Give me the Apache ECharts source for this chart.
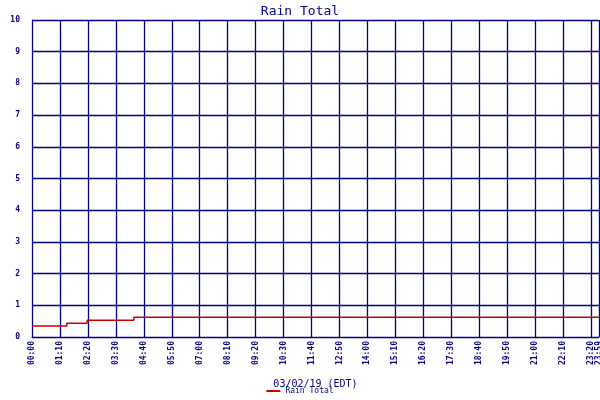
<!DOCTYPE html><html><head><meta charset="utf-8">
<script src="https://cdn.jsdelivr.net/npm/echarts@6/dist/echarts.min.js"></script>
<style>body{margin:0;background:#fff}#c{width:600px;height:400px}</style></head><body><div id="c"></div>
<script>
// times in minutes after midnight, values in inches
const stepTimes = [0, 87, 138, 255, 1420];
const stepValues = [0.35, 0.43, 0.53, 0.62, 0.62];
const yTicks = [0,1,2,3,4,5,6,7,8,9,10];
const seriesName = 'Rain Total';
const navy = '#000080';
const font = 'DejaVu Sans Mono';
function fmt(m){ if(m>=1420) return '23:59'; const h=Math.floor(m/60), mm=m%60; return String(h).padStart(2,'0')+':'+String(mm).padStart(2,'0'); }
const chart = echarts.init(document.getElementById('c'));
chart.setOption({
  animation:false,
  title:{text:'Rain Total',left:'center',top:0,textStyle:{color:navy,fontFamily:font,fontSize:13,fontWeight:'normal'}},
  grid:{left:32,top:20,right:1,bottom:63,containLabel:false,outerBoundsMode:'none'},
  xAxis:{type:'value',min:0,max:1420,interval:70,
    name:'03/02/19 (EDT)',nameLocation:'middle',nameGap:42,nameTextStyle:{color:navy,fontFamily:font,fontSize:10},
    axisLine:{lineStyle:{color:navy}},axisTick:{show:false},
    axisLabel:{rotate:90,color:navy,fontFamily:font,fontSize:8,fontWeight:'bold',formatter:fmt,showMaxLabel:true,margin:4},
    splitLine:{lineStyle:{color:navy,width:1.3}}},
  yAxis:{type:'value',min:0,max:10,interval:1,
    name:'Inches',nameLocation:'middle',nameGap:22,nameTextStyle:{color:navy,fontFamily:font,fontSize:10},
    axisLine:{show:true,lineStyle:{color:navy}},axisTick:{show:false},
    axisLabel:{color:navy,fontFamily:font,fontSize:8,fontWeight:'bold',margin:12},
    splitLine:{lineStyle:{color:navy,width:1.3}}},
  legend:{bottom:0,left:'center',itemWidth:14,itemHeight:2,icon:'rect',
    textStyle:{color:navy,fontFamily:font,fontSize:8},data:[seriesName]},
  series:[{name:seriesName,type:'line',step:'end',symbol:'none',
    lineStyle:{color:'#cc0000',width:1.5},itemStyle:{color:'#cc0000'},
    data:stepTimes.map((t,i)=>[t,stepValues[i]])}]
});
</script></body></html>
